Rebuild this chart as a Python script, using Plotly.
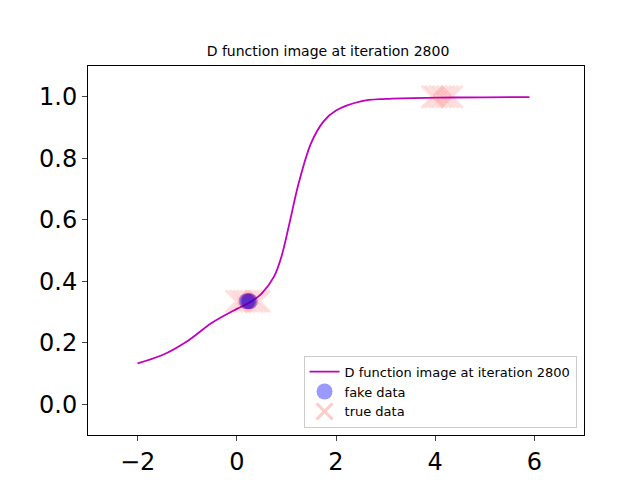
import plotly.graph_objects as go

curve_x = [-2, -1.5, -1, -0.5, 0, 0.25, 0.5, 0.75, 0.9, 1.05, 1.25, 1.5, 1.75, 2, 2.5, 3, 4, 5, 5.9]
curve_y = [0.133, 0.16, 0.205, 0.265, 0.31, 0.33, 0.36, 0.415, 0.48, 0.58, 0.72, 0.85, 0.92, 0.955, 0.985, 0.993, 0.997, 0.998, 0.999]
fake_x = [0.2, 0.23, 0.26]
fake_y = [0.335, 0.335, 0.335]
true_x = [0.0, 0.08, 0.15, 0.22, 0.3, 0.38, 0.45, 3.95, 4.02, 4.1, 4.17, 4.25, 4.33]
true_y = [0.335, 0.335, 0.335, 0.335, 0.335, 0.335, 0.335, 1.0, 1.0, 1.0, 1.0, 1.0, 1.0]

fig = go.Figure()
fig.add_trace(go.Scatter(x=curve_x, y=curve_y, mode="lines", line=dict(color="#bf00bf", width=1.8, shape="spline", smoothing=1.0),
                         name="D function image at iteration 2800"))
fig.add_trace(go.Scatter(x=fake_x, y=fake_y, mode="markers", marker=dict(color="blue", size=16, opacity=0.4),
                         name="fake data"))
fig.add_trace(go.Scatter(x=true_x, y=true_y, mode="markers",
                         marker=dict(color="red", size=22, symbol="x-thin", opacity=0.12, line=dict(color="red", width=3)),
                         name="true data"))
fig.update_layout(
    width=640, height=480, plot_bgcolor="white", paper_bgcolor="white",
    margin=dict(l=80, r=64, t=58, b=53),
    title=dict(text="D function image at iteration 2800", x=0.5, xanchor="center", y=0.91, yanchor="middle",
               font=dict(family="DejaVu Sans", size=14, color="black")),
    font=dict(family="DejaVu Sans", color="black"),
    legend=dict(x=0.985, y=0.02, xanchor="right", yanchor="bottom", bordercolor="#cccccc", borderwidth=1,
                font=dict(size=13), bgcolor="rgba(255,255,255,0.8)"),
)
fig.update_xaxes(range=[-3, 7], tickvals=[-2, 0, 2, 4, 6], ticktext=["−2", "0", "2", "4", "6"], automargin=False,
                 showgrid=False, zeroline=False, showline=True, linecolor="black", mirror=True,
                 ticks="outside", ticklen=5, tickfont=dict(size=24))
fig.update_yaxes(range=[-0.1, 1.1], tickvals=[0, 0.2, 0.4, 0.6, 0.8, 1.0], tickformat=".1f", automargin=False,
                 showgrid=False, zeroline=False, showline=True, linecolor="black", mirror=True,
                 ticks="outside", ticklen=5, tickfont=dict(size=24))
fig.write_html("out.html")
